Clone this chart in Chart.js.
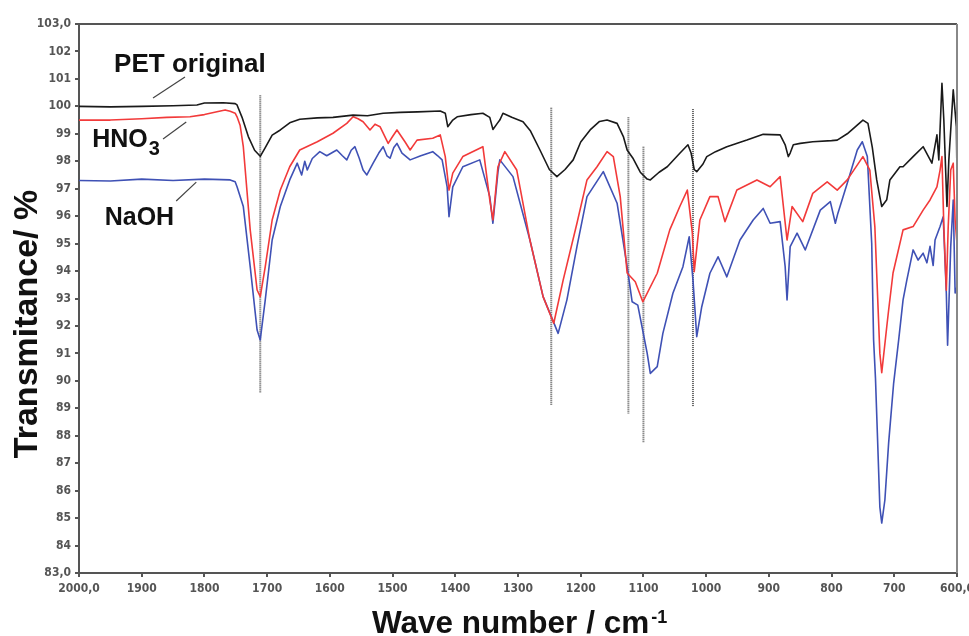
<!DOCTYPE html>
<html>
<head>
<meta charset="utf-8">
<script src="https://cdn.jsdelivr.net/npm/chart.js@4/dist/chart.umd.min.js"></script>
<style>
html,body{margin:0;padding:0;background:#fff;}
#wrap{width:969px;height:636px;}
</style>
</head>
<body>
<div id="wrap"><canvas id="c" width="969" height="636"></canvas></div>
<script>
// ---- data (wavenumber in cm-1, transmittance in %) ----
const petWn = [2000,1950,1900,1850,1812,1800,1770,1751,1748,1740,1730,1720,1711,1703,1692,1679,1664,1648,1620,1595,1563,1540,1515,1488,1460,1424,1416,1412,1404,1397,1375,1356,1345,1340,1333,1329,1324,1310,1292,1280,1265,1250,1238,1225,1212,1200,1185,1170,1158,1142,1132,1126,1117,1105,1094,1089,1075,1062,1042,1029,1024,1019,1015,1005,999,985,967,935,909,882,874,869,866,861,850,830,800,791,775,760,750,742,735,728,723,720,712,707,691,686,670,654,640,632,629,624,621,616,613,606,601,600];
const petT  = [100.0,99.98,100.0,100.02,100.05,100.12,100.13,100.1,100.05,99.6,98.9,98.4,98.18,98.5,98.95,99.14,99.4,99.53,99.58,99.6,99.68,99.66,99.75,99.78,99.8,99.83,99.75,99.26,99.5,99.62,99.7,99.75,99.6,99.16,99.38,99.5,99.75,99.6,99.44,99.1,98.41,97.7,97.44,97.7,98.05,98.7,99.14,99.45,99.5,99.38,98.9,98.41,98.12,97.6,97.35,97.32,97.6,97.8,98.29,98.6,98.3,97.7,97.62,97.9,98.17,98.35,98.53,98.77,98.98,98.96,98.6,98.17,98.3,98.6,98.65,98.71,98.75,98.77,99.0,99.3,99.5,99.38,98.5,97.32,96.7,96.35,96.6,97.32,97.8,97.8,98.17,98.53,97.93,98.96,98.05,100.84,99.5,96.35,98.05,100.6,99.26,97.44];

const hno3Wn = [2000,1950,1900,1860,1823,1800,1780,1767,1759,1751,1748,1743,1738,1727,1716,1711,1703,1692,1679,1664,1648,1620,1595,1573,1563,1555,1547,1536,1528,1520,1507,1500,1493,1480,1472,1461,1436,1424,1416,1410,1404,1388,1356,1345,1340,1332,1321,1302,1281,1260,1243,1228,1206,1190,1174,1158,1148,1137,1126,1113,1101,1078,1058,1042,1030,1022,1019,1010,994,981,970,951,919,898,882,871,863,846,830,807,791,775,750,739,731,723,720,712,709,702,686,670,654,643,632,627,624,621,617,614,610,606,603,600];
const hno3T  = [99.5,99.5,99.55,99.6,99.62,99.7,99.8,99.87,99.82,99.75,99.62,99.3,98.53,95.5,93.31,93.07,94.16,95.86,96.95,97.8,98.41,98.71,99.02,99.38,99.62,99.55,99.44,99.14,99.35,99.26,98.65,98.9,99.14,98.7,98.41,98.77,98.84,98.96,98.17,96.95,97.57,98.17,98.53,96.59,95.86,97.8,98.35,97.68,95.13,93.07,92.1,93.67,95.74,97.32,97.8,98.35,98.17,96.71,93.93,93.61,92.88,93.92,95.5,96.35,96.95,95.38,93.98,95.86,96.71,96.71,95.8,96.95,97.32,97.07,97.44,95.13,96.35,95.8,96.83,97.25,96.95,97.32,98.17,97.68,95.62,91.0,90.3,91.97,92.58,93.93,95.5,95.62,96.22,96.59,97.07,97.68,98.17,95.62,93.3,95.62,97.68,97.93,95.86,95.0];

const naohWn = [2000,1950,1900,1850,1800,1759,1751,1748,1738,1727,1716,1711,1703,1692,1679,1664,1652,1645,1640,1636,1628,1616,1605,1589,1580,1573,1566,1560,1553,1547,1541,1531,1522,1515,1509,1504,1498,1493,1485,1472,1455,1436,1428,1421,1413,1410,1404,1388,1361,1345,1340,1332,1329,1308,1281,1260,1249,1236,1222,1206,1190,1164,1142,1126,1118,1109,1094,1089,1078,1069,1053,1037,1027,1021,1015,1007,994,981,967,946,925,909,898,882,874,871,866,855,842,818,802,794,790,775,759,751,743,736,733,730,727,723,720,715,709,701,693,686,680,670,662,654,648,643,638,635,627,622,617,615,610,606,603,600];
const naohT  = [97.3,97.28,97.35,97.3,97.35,97.32,97.25,97.07,96.35,94.16,91.85,91.49,92.95,95.13,96.35,97.32,97.93,97.5,98.0,97.68,98.1,98.35,98.2,98.41,98.2,98.05,98.4,98.53,98.1,97.68,97.5,97.93,98.3,98.53,98.2,98.11,98.5,98.65,98.3,98.05,98.2,98.35,98.2,98.05,97.07,95.98,97.07,97.8,98.05,96.71,95.74,97.6,98.05,97.44,95.13,93.07,92.46,91.73,92.95,94.89,96.71,97.62,96.47,94.16,92.88,92.76,91.0,90.27,90.52,91.73,93.19,94.16,95.25,93.67,91.61,92.7,93.92,94.52,93.79,95.13,95.86,96.28,95.74,95.8,94.16,92.95,94.89,95.38,94.77,96.22,96.53,95.74,96.1,97.2,98.41,98.71,98.17,95.01,91.5,90.1,88.1,85.4,84.82,85.66,87.74,89.92,91.49,92.95,93.67,94.77,94.4,94.65,94.3,94.9,94.2,95.13,95.62,95.98,93.19,91.3,94.89,96.59,93.2,93.43];

// reference (dotted) lines: wavenumber, top and bottom transmittance
const refWn     = [1711, 1247, 1124, 1100, 1021];
const refTop    = [100.4, 99.95, 99.6, 98.53, 99.9];
const refBottom = [89.56, 89.1, 88.8, 87.74, 89.05];

// label leader lines: [wn1, T1, wn2, T2]
const leaderPet  = [1882, 100.30, 1831, 101.07];
const leaderHno3 = [1866, 98.81, 1829, 99.43];
const leaderNaoh = [1845, 96.55, 1813, 97.24];

// axis ticks
const xTickValues = [2000,1900,1800,1700,1600,1500,1400,1300,1200,1100,1000,900,800,700,600];
const xTickLabels = ['2000,0','1900','1800','1700','1600','1500','1400','1300','1200','1100','1000','900','800','700','600,0'];
const yTickValues = [103,102,101,100,99,98,97,96,95,94,93,92,91,90,89,88,87,86,85,84,83];
const yTickLabels = ['103,0','102','101','100','99','98','97','96','95','94','93','92','91','90','89','88','87','86','85','84','83,0'];

const seriesNames = ['PET original', 'HNO3', 'NaOH'];

// ---- build datasets ----
function pts(xs, ys){ return xs.map((x,i)=>({x:x, y:ys[i]})); }
const datasets = [];
refWn.forEach((w,i)=>{
  datasets.push({type:'line', data:[{x:w,y:refTop[i]},{x:w,y:refBottom[i]}],
    borderColor:'#5a5a5a', borderWidth:2, borderDash:[1,1], pointRadius:0, order:5});
});
[leaderPet, leaderHno3, leaderNaoh].forEach(l=>{
  datasets.push({type:'line', data:[{x:l[0],y:l[1]},{x:l[2],y:l[3]}],
    borderColor:'#444', borderWidth:1.2, pointRadius:0, order:4});
});
datasets.push({label:seriesNames[2], data:pts(naohWn,naohT), borderColor:'#3f51b5', borderWidth:1.6, pointRadius:0, tension:0, order:3});
datasets.push({label:seriesNames[1], data:pts(hno3Wn,hno3T), borderColor:'#f23a3a', borderWidth:1.6, pointRadius:0, tension:0, order:2});
datasets.push({label:seriesNames[0], data:pts(petWn,petT), borderColor:'#1a1a1a', borderWidth:1.6, pointRadius:0, tension:0, order:1});

const tickFont = {family:'"DejaVu Sans Condensed","Liberation Sans Narrow",sans-serif', size:12, weight:'bold'};

const decor = {
  id:'decor',
  afterDraw(chart){
    const ctx = chart.ctx, a = chart.chartArea;
    const xs = chart.scales.x, ys = chart.scales.y;
    ctx.save();
    // frame top and right
    ctx.strokeStyle = '#555'; ctx.lineWidth = 2;
    ctx.beginPath(); ctx.moveTo(a.left, a.top); ctx.lineTo(a.right, a.top); ctx.stroke();
    ctx.strokeStyle = '#888';
    ctx.beginPath(); ctx.moveTo(a.right, a.top); ctx.lineTo(a.right, a.bottom); ctx.stroke();
    // series labels
    ctx.fillStyle = '#111';
    ctx.textBaseline = 'alphabetic';
    ctx.textAlign = 'left';
    ctx.font = 'bold 26px "Liberation Sans", Arial, sans-serif';
    ctx.fillText(seriesNames[0], xs.getPixelForValue(1944), ys.getPixelForValue(101.25));
    ctx.font = 'bold 25px "Liberation Sans", Arial, sans-serif';
    const hx = xs.getPixelForValue(1979), hy = ys.getPixelForValue(98.52);
    ctx.fillText('HNO', hx, hy);
    const hw = ctx.measureText('HNO').width;
    ctx.font = 'bold 20px "Liberation Sans", Arial, sans-serif';
    ctx.fillText('3', hx + hw + 1, hy + 8);
    ctx.font = 'bold 25px "Liberation Sans", Arial, sans-serif';
    ctx.fillText(seriesNames[2], xs.getPixelForValue(1959), ys.getPixelForValue(95.68));
    // axis titles
    ctx.fillStyle = '#111';
    const t1 = 'Wave number / cm';
    ctx.font = 'bold 31.5px "Liberation Sans", Arial, sans-serif';
    const w1 = ctx.measureText(t1).width;
    const x0 = a.left + 293;
    ctx.fillText(t1, x0, 633);
    ctx.font = 'bold 18px "Liberation Sans", Arial, sans-serif';
    ctx.fillText('-1', x0 + w1 + 2, 623);
    ctx.translate(37, 324);
    ctx.rotate(-Math.PI/2);
    ctx.textAlign = 'center';
    ctx.font = 'bold 34px "Liberation Sans", Arial, sans-serif';
    ctx.fillText('Transmitance/ %', 0, 0);
    ctx.restore();
  }
};

new Chart(document.getElementById('c'), {
  type:'line',
  data:{datasets:datasets},
  options:{
    responsive:false, animation:false, devicePixelRatio:1,
    layout:{padding:{top:24, right:12, left:0, bottom:0}},
    plugins:{legend:{display:false}, tooltip:{enabled:false}},
    elements:{line:{borderJoinStyle:'round'}},
    scales:{
      x:{type:'linear', reverse:true, min:600, max:2000,
        afterFit(s){ s.height = 63; s.paddingLeft = 0; s.paddingRight = 0; },
        afterBuildTicks(s){ s.ticks = xTickValues.map(v=>({value:v})); },
        ticks:{autoSkip:false, maxRotation:0, padding:5, color:'#555', font:tickFont,
          callback:(v)=>{ const i = xTickValues.indexOf(v); return i>=0 ? xTickLabels[i] : ''; }},
        grid:{drawOnChartArea:false, tickLength:4, color:'#555', lineWidth:2},
        border:{display:true, color:'#555', width:2}
      },
      y:{type:'linear', min:83, max:103,
        afterFit(s){ s.width = 79; s.paddingTop = 0; s.paddingBottom = 0; },
        afterBuildTicks(s){ s.ticks = yTickValues.map(v=>({value:v})); },
        ticks:{autoSkip:false, padding:4, color:'#555', font:tickFont,
          callback:(v)=>{ const i = yTickValues.indexOf(v); return i>=0 ? yTickLabels[i] : ''; }},
        grid:{drawOnChartArea:false, tickLength:4, color:'#555', lineWidth:2},
        border:{display:true, color:'#555', width:2}
      }
    }
  },
  plugins:[decor]
});
</script>
</body>
</html>
